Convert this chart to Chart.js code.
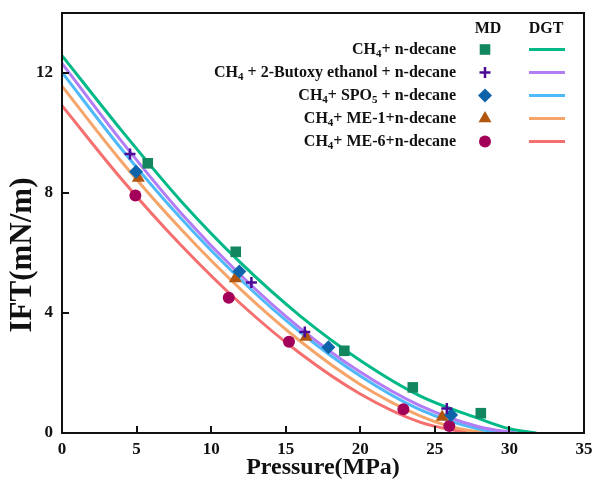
<!DOCTYPE html>
<html>
<head>
<meta charset="utf-8">
<script src="https://cdn.jsdelivr.net/npm/chart.js@4/dist/chart.umd.min.js"></script>
<style>
  html, body { margin: 0; padding: 0; background: #ffffff; }
  #wrap { width: 594px; height: 488px; position: relative; }
</style>
</head>
<body>
<div id="wrap"><canvas id="c" width="594" height="488"></canvas></div>
<script>
// ---- MD simulation points (pressure in MPa, IFT in mN/m) ----
const mdDecaneP   = [5.75, 11.65, 18.93, 23.52, 28.08];
const mdDecaneIFT = [8.99, 6.04, 2.74, 1.52, 0.66];

const mdButoxyP   = [4.56, 12.70, 16.28, 25.80];
const mdButoxyIFT = [9.30, 5.02, 3.37, 0.82];

const mdSpoP      = [4.96, 11.89, 17.86, 26.09];
const mdSpoIFT    = [8.71, 5.38, 2.86, 0.60];

const mdMe1P      = [5.12, 11.62, 16.36, 25.49];
const mdMe1IFT    = [8.50, 5.15, 3.20, 0.53];

const mdMe6P      = [4.92, 11.18, 15.22, 22.89, 25.97];
const mdMe6IFT    = [7.92, 4.51, 3.04, 0.79, 0.23];

// ---- DGT predictions ----
const dgtDecaneP   = [0, 4, 8, 12, 16, 20, 24, 28, 30, 31.8];
const dgtDecaneIFT = [12.58, 10.08, 7.72, 5.66, 3.89, 2.42, 1.24, 0.47, 0.14, 0];

const dgtButoxyP   = [0, 4, 8, 12, 16, 20, 24, 28, 30.5];
const dgtButoxyIFT = [12.32, 9.72, 7.32, 5.25, 3.48, 2.03, 0.91, 0.20, 0];

const dgtSpoP      = [0, 4, 8, 12, 16, 20, 24, 28, 29.5];
const dgtSpoIFT    = [12.02, 9.46, 7.14, 5.10, 3.35, 1.90, 0.78, 0.12, 0];

const dgtMe1P      = [0, 4, 8, 12, 16, 20, 24, 26, 28.3];
const dgtMe1IFT    = [11.56, 9.04, 6.78, 4.78, 3.05, 1.62, 0.57, 0.22, 0];

const dgtMe6P      = [0, 4, 8, 12, 16, 20, 24, 27.2];
const dgtMe6IFT    = [10.91, 8.46, 6.25, 4.30, 2.64, 1.30, 0.36, 0];

// ---- axis ticks and labels ----
const xTickValues = [0, 5, 10, 15, 20, 25, 30, 35];
const yTickValues = [0, 4, 8, 12];
const xTitle = 'Pressure(MPa)';
const yTitle = 'IFT(mN/m)';
const legendHeaders = ['MD', 'DGT'];
// each legend label as [text, isSubscript] runs
const legendLabels = [
  [['CH', 0], ['4', 1], ['+ n-decane', 0]],
  [['CH', 0], ['4', 1], [' + 2-Butoxy ethanol + n-decane', 0]],
  [['CH', 0], ['4', 1], ['+ SPO', 0], ['5', 1], [' + n-decane', 0]],
  [['CH', 0], ['4', 1], ['+ ME-1+n-decane', 0]],
  [['CH', 0], ['4', 1], ['+ ME-6+n-decane', 0]]
];

const FONT = '"Liberation Serif", "Times New Roman", serif';
const markerColors = ['#12875f', '#4b0a96', '#0c63a9', '#b2560f', '#a3005a'];
const lineColors   = ['#00b987', '#b27cf4', '#4fb9f9', '#f5a56a', '#f56f6f'];
const markerStyles = ['rect', 'cross', 'rectRot', 'triangle', 'circle'];
const markerRadius = [7.5, 5.5, 7, 7.5, 6];

const zip = (xs, ys) => xs.map((x, i) => ({ x: x, y: ys[i] }));

const mdSets = [
  zip(mdDecaneP, mdDecaneIFT), zip(mdButoxyP, mdButoxyIFT), zip(mdSpoP, mdSpoIFT),
  zip(mdMe1P, mdMe1IFT), zip(mdMe6P, mdMe6IFT)
];
const dgtSets = [
  zip(dgtDecaneP, dgtDecaneIFT), zip(dgtButoxyP, dgtButoxyIFT), zip(dgtSpoP, dgtSpoIFT),
  zip(dgtMe1P, dgtMe1IFT), zip(dgtMe6P, dgtMe6IFT)
];

const datasets = [];
dgtSets.forEach((d, i) => datasets.push({
  type: 'scatter', data: d, showLine: true, borderColor: lineColors[i], borderWidth: 3,
  pointRadius: 0, cubicInterpolationMode: 'monotone', fill: false, order: 2
}));
mdSets.forEach((d, i) => datasets.push({
  type: 'scatter', data: d, showLine: false, pointStyle: markerStyles[i],
  pointRadius: markerRadius[i], backgroundColor: markerColors[i], borderColor: markerColors[i],
  borderWidth: markerStyles[i] === 'cross' ? 2.5 : 0, order: 1
}));

// inward tick marks, closed frame and the vertical axis title
const framePlugin = {
  id: 'frame',
  afterDatasetsDraw(chart) {
    const { ctx, chartArea: a, scales } = chart;
    ctx.save();
    ctx.strokeStyle = '#111';
    ctx.lineWidth = 2;
    ctx.beginPath();
    xTickValues.forEach(v => {
      const px = Math.round(scales.x.getPixelForValue(v));
      ctx.moveTo(px, a.bottom); ctx.lineTo(px, a.bottom - 7);
    });
    yTickValues.forEach(v => {
      const py = Math.round(scales.y.getPixelForValue(v));
      ctx.moveTo(a.left, py); ctx.lineTo(a.left + 7, py);
    });
    ctx.stroke();
    ctx.strokeRect(a.left, a.top, a.right - a.left, a.bottom - a.top);

    ctx.translate(23, 255);
    ctx.rotate(-Math.PI / 2);
    ctx.fillStyle = '#111';
    ctx.font = 'bold 31px ' + FONT;
    ctx.textAlign = 'center';
    ctx.textBaseline = 'middle';
    ctx.fillText(yTitle, 0, 0);
    ctx.restore();
  }
};

// two-column legend: MD markers and DGT lines
const legendPlugin = {
  id: 'twoColLegend',
  afterDatasetsDraw(chart) {
    const ctx = chart.ctx;
    const mainFont = 'bold 16px ' + FONT;
    const subFont = 'bold 11px ' + FONT;
    const textRight = 456, markerX = 485, lineX0 = 529, lineX1 = 565;
    const rowY0 = 49.5, rowGap = 23;
    ctx.save();
    ctx.fillStyle = '#111';
    ctx.textBaseline = 'middle';
    ctx.textAlign = 'center';
    ctx.font = 'bold 16px ' + FONT;
    ctx.fillText(legendHeaders[0], 488, 29);
    ctx.fillText(legendHeaders[1], 546, 29);
    ctx.textAlign = 'left';
    legendLabels.forEach((runs, i) => {
      const y = rowY0 + i * rowGap;
      let total = 0;
      runs.forEach(([t, s]) => { ctx.font = s ? subFont : mainFont; total += ctx.measureText(t).width; });
      let x = textRight - total;
      ctx.fillStyle = '#111';
      runs.forEach(([t, s]) => {
        ctx.font = s ? subFont : mainFont;
        ctx.fillText(t, x, s ? y + 5 : y);
        x += ctx.measureText(t).width;
      });
      ctx.fillStyle = markerColors[i];
      ctx.strokeStyle = markerColors[i];
      ctx.lineWidth = 2.5;
      Chart.helpers.drawPoint(ctx, {
        pointStyle: markerStyles[i], radius: markerRadius[i], rotation: 0,
        borderWidth: markerStyles[i] === 'cross' ? 2.5 : 0
      }, markerX, y);
      ctx.strokeStyle = lineColors[i];
      ctx.lineWidth = 3;
      ctx.beginPath();
      ctx.moveTo(lineX0, y); ctx.lineTo(lineX1, y);
      ctx.stroke();
    });
    ctx.restore();
  }
};

new Chart(document.getElementById('c'), {
  type: 'scatter',
  data: { datasets: datasets },
  options: {
    responsive: false,
    devicePixelRatio: 1,
    animation: false,
    layout: { padding: { top: 13, right: 10, left: 0, bottom: 0 } },
    plugins: { legend: { display: false }, tooltip: { enabled: false } },
    scales: {
      x: {
        type: 'linear', min: 0, max: 35,
        afterFit(s) { s.height = 55; s.paddingLeft = 0; s.paddingRight = 0; },
        afterBuildTicks(s) { s.ticks = xTickValues.map(v => ({ value: v })); },
        grid: { display: false, drawTicks: false },
        border: { display: false },
        ticks: { padding: 6, color: '#111', font: { family: FONT, size: 17, weight: 'bold' } },
        title: { display: true, text: xTitle, color: '#111', padding: { top: 0, bottom: 6 },
                 font: { family: FONT, size: 24, weight: 'bold' } }
      },
      y: {
        type: 'linear', min: 0, max: 14,
        afterFit(s) { s.width = 62; s.paddingTop = 0; s.paddingBottom = 0; },
        afterBuildTicks(s) { s.ticks = yTickValues.map(v => ({ value: v })); },
        grid: { display: false, drawTicks: false },
        border: { display: false },
        ticks: { padding: 9, color: '#111', font: { family: FONT, size: 17, weight: 'bold' } },
        title: { display: false }
      }
    }
  },
  plugins: [framePlugin, legendPlugin]
});
</script>
</body>
</html>
